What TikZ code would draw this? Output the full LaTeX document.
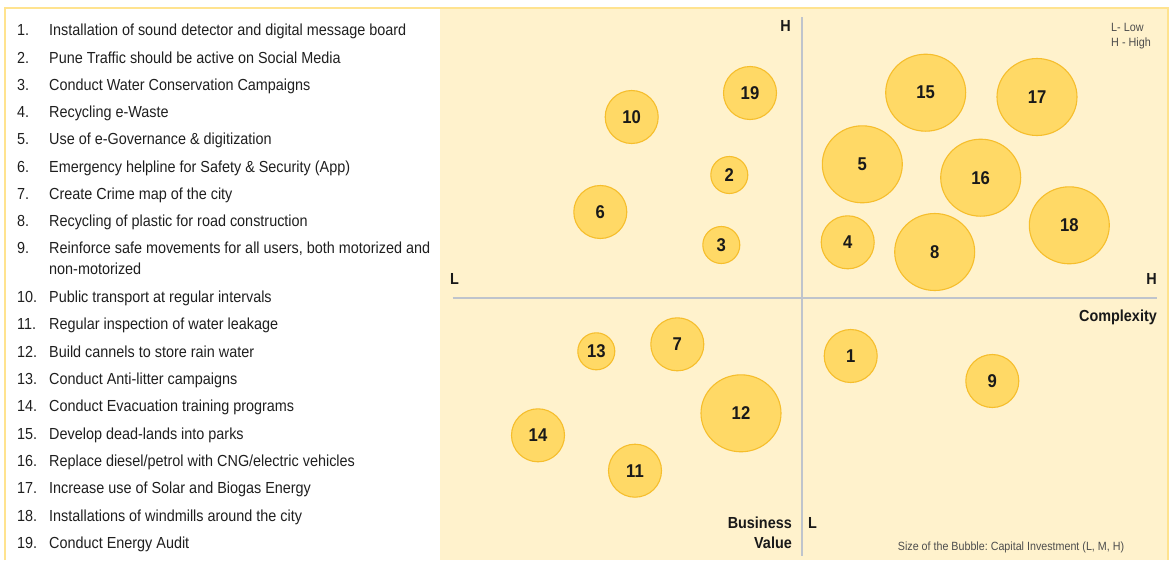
\documentclass[tikz,border=0pt]{standalone}
\usepackage{fontspec}
\setmainfont{Liberation Sans}[FakeStretch=0.9]
\frenchspacing
\usetikzlibrary{shapes.geometric}
\definecolor{panelfill}{HTML}{FFF2CC}
\definecolor{framecol}{HTML}{FFE38F}
\definecolor{bubblefill}{HTML}{FFD966}
\definecolor{bubbleline}{HTML}{F6BE2C}
\definecolor{axiscol}{HTML}{BFC4CC}
\definecolor{notecol}{HTML}{4D4D4D}
\begin{document}
\begin{tikzpicture}[x=1pt,y=-1pt,
    item/.style={anchor=base west,inner sep=0pt,align=left,
      font=\fontsize{16}{20.8}\selectfont,text=black!88},
    bubble/.style={draw=bubbleline,fill=bubblefill,line width=1.1pt,inner sep=0pt,
      text=black!90,font=\fontsize{18.5}{18.5}\selectfont\bfseries},
    smallbub/.style={bubble,circle,minimum size=37pt},
    midbub/.style={bubble,circle,minimum size=53pt},
    bigbub/.style={bubble,ellipse,minimum width=80pt,minimum height=77pt},
    axislabel/.style={inner sep=0pt,text=black!90,
      font=\fontsize{16}{20.7}\selectfont\bfseries},
    notelabel/.style={inner sep=0pt,text=notecol,align=left}]
  \useasboundingbox (0,0) rectangle (1173,560);

  \begin{scope}
    \fill[panelfill] (440,8) rectangle (1168,560);
    \draw[framecol,line width=1.5pt] (5,560) |- (1168,8) -- (1168,560);
  \end{scope}

  \begin{scope}
    \node[item] (i1) at (17,35.7) {\makebox[32pt][l]{1.}Installation of sound detector and digital message board};
    \node[item] (i2) at (17,63) {\makebox[32pt][l]{2.}Pune Traffic should be active on Social Media};
    \node[item] (i3) at (17,90.2) {\makebox[32pt][l]{3.}Conduct Water Conservation Campaigns};
    \node[item] (i4) at (17,117.5) {\makebox[32pt][l]{4.}Recycling e-Waste};
    \node[item] (i5) at (17,144.7) {\makebox[32pt][l]{5.}Use of e-Governance \& digitization};
    \node[item] (i6) at (17,172) {\makebox[32pt][l]{6.}Emergency helpline for Safety \& Security (App)};
    \node[item] (i7) at (17,199.2) {\makebox[32pt][l]{7.}Create Crime map of the city};
    \node[item] (i8) at (17,226.5) {\makebox[32pt][l]{8.}Recycling of plastic for road construction};
    \node[item] (i9) at (17,274.5) {\makebox[32pt][l]{9.}Reinforce safe movements for all users, both motorized and\\\hspace*{32pt}non-motorized};
    \node[item] (i10) at (17,302.3) {\makebox[32pt][l]{10.}Public transport at regular intervals};
    \node[item] (i11) at (17,329.7) {\makebox[32pt][l]{11.}Regular inspection of water leakage};
    \node[item] (i12) at (17,357.1) {\makebox[32pt][l]{12.}Build cannels to store rain water};
    \node[item] (i13) at (17,384.4) {\makebox[32pt][l]{13.}Conduct Anti-litter campaigns};
    \node[item] (i14) at (17,411.8) {\makebox[32pt][l]{14.}Conduct Evacuation training programs};
    \node[item] (i15) at (17,439.2) {\makebox[32pt][l]{15.}Develop dead-lands into parks};
    \node[item] (i16) at (17,466.6) {\makebox[32pt][l]{16.}Replace diesel/petrol with CNG/electric vehicles};
    \node[item] (i17) at (17,493.9) {\makebox[32pt][l]{17.}Increase use of Solar and Biogas Energy};
    \node[item] (i18) at (17,521.3) {\makebox[32pt][l]{18.}Installations of windmills around the city};
    \node[item] (i19) at (17,548.7) {\makebox[32pt][l]{19.}Conduct Energy Audit};
  \end{scope}

  \begin{scope}
    \coordinate (vtop) at (801.7,17);
    \coordinate (vbot) at (801.7,556);
    \coordinate (hleft) at (452.7,298.3);
    \coordinate (hright) at (1156.7,298.3);
    \draw[axiscol,line width=1.7pt] (vtop) -- (vbot);
    \draw[axiscol,line width=1.7pt] (hleft) -- (hright);
  \end{scope}

  \begin{scope}
    \node[axislabel,anchor=base east] (vh) at (791,31.7) {H};
    \node[axislabel,anchor=base west] (vl) at (808,528) {L};
    \node[axislabel,anchor=base west] (hl) at (450,284) {L};
    \node[axislabel,anchor=base east] (hh) at (1157,284) {H};
    \node[axislabel,anchor=base east] (cx) at (1157,321.5) {Complexity};
    \node[axislabel,anchor=base east,align=right] (bv) at (792,548.7) {Business\\Value};
    \node[notelabel,anchor=base west,font=\fontsize{12}{15.7}\selectfont] (lg) at (1111,46.7) {L- Low\\H - High};
    \node[notelabel,anchor=base,font=\fontsize{11.9}{14}\selectfont] (sz) at (1011,550) {Size of the Bubble: Capital Investment (L, M, H)};
  \end{scope}

  \begin{scope}
    \node[midbub] (b19) at (750,93) {19};
    \node[midbub] (b10) at (631.7,117) {10};
    \node[smallbub] (b2) at (729.3,175) {2};
    \node[midbub] (b6) at (600.3,212) {6};
    \node[smallbub] (b3) at (721.3,245) {3};
    \node[bigbub] (b15) at (925.7,92.7) {15};
    \node[bigbub] (b17) at (1037,97) {17};
    \node[bigbub] (b5) at (862.3,164.3) {5};
    \node[bigbub] (b16) at (980.7,177.7) {16};
    \node[midbub] (b4) at (847.7,242.3) {4};
    \node[bigbub] (b8) at (934.7,252) {8};
    \node[bigbub] (b18) at (1069.3,225.3) {18};
    \node[smallbub] (b13) at (596.3,351.3) {13};
    \node[midbub] (b7) at (677.3,344.3) {7};
    \node[bigbub] (b12) at (741,413.3) {12};
    \node[midbub] (b14) at (538,435.3) {14};
    \node[midbub] (b11) at (635,470.7) {11};
    \node[midbub] (b1) at (850.7,356) {1};
    \node[midbub] (b9) at (992.3,381) {9};
  \end{scope}
\end{tikzpicture}
\end{document}
